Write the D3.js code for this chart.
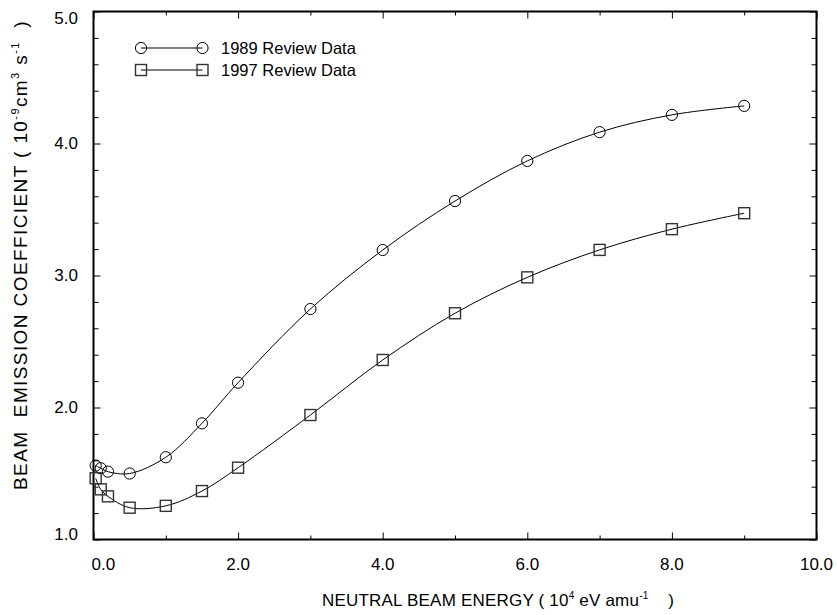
<!DOCTYPE html>
<html>
<head>
<meta charset="utf-8">
<script src="https://cdn.jsdelivr.net/npm/d3@7"></script>
<style>
  html, body { margin: 0; padding: 0; background: #fff; }
  svg { display: block; font-family: "Liberation Sans", Arial, sans-serif; }
  text { white-space: pre; }
</style>
</head>
<body>
<svg id="chart" width="837" height="615"></svg>
<script>
// Beam energy (10^4 eV/amu) and emission coefficients (10^-9 cm^3 s^-1)
const energy = [0.03, 0.1, 0.2, 0.5, 1.0, 1.5, 2.0, 3.0, 4.0, 5.0, 6.0, 7.0, 8.0, 9.0];
const review1989 = [1.56, 1.54, 1.514, 1.50, 1.623, 1.88, 2.188, 2.746, 3.193, 3.564, 3.868, 4.086, 4.217, 4.285];
const review1997 = [1.464, 1.38, 1.327, 1.241, 1.255, 1.367, 1.544, 1.943, 2.36, 2.714, 2.986, 3.194, 3.351, 3.472];
const seriesNames = ["1989 Review Data", "1997 Review Data"];

const xMajorTicks = [0, 2, 4, 6, 8, 10];
const xMinorTicks = [1, 3, 5, 7, 9];
const yMajorTicks = [1, 2, 3, 4, 5];
const yMinorTicks = d3.range(1, 5.001, 0.2).map(v => +v.toFixed(1)).filter(v => !yMajorTicks.includes(v));

const svg = d3.select("#chart");
const plotLeft = 93.5, plotTop = 11.5, plotRight = 816.5, plotBottom = 539.5;

const x = d3.scaleLinear().domain([0, 10]).range([plotLeft, plotRight]);
const y = d3.scaleLinear().domain([1, 5]).range([plotBottom, plotTop]);

const fmt = d3.format(".1f");

// Inward ticks on all four sides
function addAxis(gen, transform, ticks, size) {
  const g = svg.append("g").attr("transform", transform)
    .call(gen.tickValues(ticks).tickSizeInner(size).tickSizeOuter(0).tickFormat(""));
  g.select(".domain").remove();
  g.selectAll(".tick line").attr("stroke", "#000").attr("stroke-width", 1);
  return g;
}

addAxis(d3.axisBottom(x), `translate(0,${plotBottom})`, xMajorTicks, -7);
addAxis(d3.axisBottom(x), `translate(0,${plotBottom})`, xMinorTicks, -4);
addAxis(d3.axisTop(x), `translate(0,${plotTop})`, xMajorTicks, -7);
addAxis(d3.axisTop(x), `translate(0,${plotTop})`, xMinorTicks, -4);
addAxis(d3.axisLeft(y), `translate(${plotLeft},0)`, yMajorTicks, -7);
addAxis(d3.axisLeft(y), `translate(${plotLeft},0)`, yMinorTicks, -5);
addAxis(d3.axisRight(y), `translate(${plotRight},0)`, yMajorTicks, -7);
addAxis(d3.axisRight(y), `translate(${plotRight},0)`, yMinorTicks, -5);

// Tick labels, kept inside the frame's extent at the ends
svg.append("g").selectAll("text").data(xMajorTicks).join("text")
  .attr("x", d => d === 0 ? plotLeft - 2 : x(d))
  .attr("y", plotBottom + 30)
  .attr("text-anchor", d => d === 0 ? "start" : "middle")
  .attr("font-size", 17)
  .text(fmt);

svg.append("g").selectAll("text").data(yMajorTicks).join("text")
  .attr("x", plotLeft - 15.5)
  .attr("y", d => y(d))
  .attr("text-anchor", "end")
  .attr("dominant-baseline", d => d === 5 ? "hanging" : d === 1 ? "alphabetic" : "central")
  .attr("font-size", 17)
  .text(fmt);

// Frame
svg.append("rect")
  .attr("x", plotLeft).attr("y", plotTop)
  .attr("width", plotRight - plotLeft).attr("height", plotBottom - plotTop)
  .attr("fill", "none").attr("stroke", "#000").attr("stroke-width", 2);

// Axis titles with superscripts
const xt = svg.append("text").attr("x", 322).attr("y", 606)
  .attr("font-size", 17).attr("letter-spacing", 0.2);
xt.append("tspan").text("NEUTRAL BEAM ENERGY ( 10");
xt.append("tspan").attr("font-size", 10).attr("dy", -7).text("4");
xt.append("tspan").attr("dy", 7).text(" eV amu");
xt.append("tspan").attr("font-size", 10).attr("dy", -7).text("-1");
xt.append("tspan").attr("dy", 7).text("    )");

const yt = svg.append("text")
  .attr("transform", "translate(27,490) rotate(-90)")
  .attr("font-size", 19).attr("letter-spacing", 1.4);
yt.append("tspan").text("BEAM  EMISSION COEFFICIENT ( 10");
yt.append("tspan").attr("font-size", 11).attr("dy", -8).text("-9");
yt.append("tspan").attr("dy", 8).text("cm");
yt.append("tspan").attr("font-size", 11).attr("dy", -8).text("3");
yt.append("tspan").attr("dy", 8).text(" s");
yt.append("tspan").attr("font-size", 11).attr("dy", -8).text("-1");
yt.append("tspan").attr("dy", 8).text("  )");

// Data lines and markers
const line = d3.line()
  .x(d => x(d[0])).y(d => y(d[1]))
  .curve(d3.curveCatmullRom.alpha(0.5));

const s1989 = energy.map((e, i) => [e, review1989[i]]);
const s1997 = energy.map((e, i) => [e, review1997[i]]);

svg.append("path").datum(s1989).attr("d", line)
  .attr("fill", "none").attr("stroke", "#000").attr("stroke-width", 1);
svg.append("path").datum(s1997).attr("d", line)
  .attr("fill", "none").attr("stroke", "#000").attr("stroke-width", 1);

const cr = 5.6, sq = 11;
svg.append("g").selectAll("circle").data(s1989).join("circle")
  .attr("cx", d => x(d[0])).attr("cy", d => y(d[1])).attr("r", cr)
  .attr("fill", "none").attr("stroke", "#000").attr("stroke-width", 1);

svg.append("g").selectAll("rect").data(s1997).join("rect")
  .attr("x", d => x(d[0]) - sq / 2).attr("y", d => y(d[1]) - sq / 2)
  .attr("width", sq).attr("height", sq)
  .attr("fill", "none").attr("stroke", "#333").attr("stroke-width", 1.4);

// Legend
const legend = svg.append("g");
const legendRows = [48, 70];
const lx0 = 141, lx1 = 202.5;
legendRows.forEach((ly, i) => {
  legend.append("line").attr("x1", lx0).attr("x2", lx1).attr("y1", ly).attr("y2", ly)
    .attr("stroke", "#000").attr("stroke-width", 1);
  [lx0, lx1].forEach(cx => {
    if (i === 0) {
      legend.append("circle").attr("cx", cx).attr("cy", ly).attr("r", cr)
        .attr("fill", "none").attr("stroke", "#000");
    } else {
      legend.append("rect").attr("x", cx - sq / 2).attr("y", ly - sq / 2)
        .attr("width", sq).attr("height", sq)
        .attr("fill", "none").attr("stroke", "#333").attr("stroke-width", 1.4);
    }
  });
  legend.append("text").attr("x", 221).attr("y", ly).attr("dominant-baseline", "central")
    .attr("font-size", 16.5).text(seriesNames[i]);
});
</script>
</body>
</html>
